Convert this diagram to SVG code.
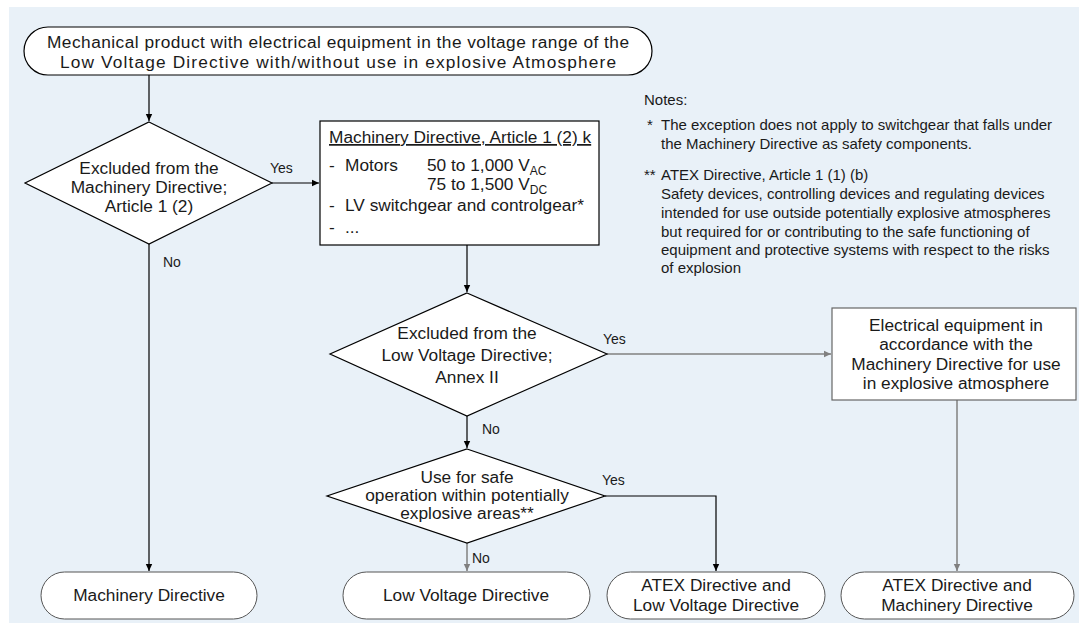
<svg xmlns="http://www.w3.org/2000/svg" width="1079" height="626" viewBox="0 0 1079 626">
<style>
text{font-family:"Liberation Sans",Arial,sans-serif;fill:#1a1a1a}
.t{font-size:17.3px;text-anchor:middle}
.b{font-size:17.3px}
.n{font-size:15px}
.l{font-size:14px}
.shape{fill:#fff;stroke:#000;stroke-width:1.2}
.term{fill:#fff;stroke:#555;stroke-width:1}
.gbox{fill:#fff;stroke:#666;stroke-width:1.2}
.c{fill:none;stroke:#000;stroke-width:1.2}
.cg{fill:none;stroke:#808080;stroke-width:1.5}
.sub{font-size:12px}
</style>
<defs>
<marker id="ab" markerWidth="8" markerHeight="8" refX="7" refY="4" orient="auto" markerUnits="userSpaceOnUse"><path d="M0,0.8 L7,4 L0,7.2 Z" fill="#000"/></marker>
<marker id="ag" markerWidth="8" markerHeight="8" refX="7" refY="4" orient="auto" markerUnits="userSpaceOnUse"><path d="M0,0.8 L7,4 L0,7.2 Z" fill="#808080"/></marker>
</defs>
<rect x="9" y="7" width="1070" height="616" fill="#e9f1f8"/>

<g id="connectors">
<path class="c" d="M149,75 V121" marker-end="url(#ab)"/>
<path class="c" d="M272,183 H319" marker-end="url(#ab)"/>
<path class="c" d="M149,244 V571" marker-end="url(#ab)"/>
<path class="c" d="M467,245 V292" marker-end="url(#ab)"/>
<path class="cg" d="M607,354 H831" marker-end="url(#ag)"/>
<path class="c" d="M467,416 V448" marker-end="url(#ab)"/>
<path class="c" d="M605,496 H716 V571" marker-end="url(#ab)"/>
<path class="cg" d="M467,543 V571" marker-end="url(#ag)"/>
<path class="cg" d="M957,400 V571" marker-end="url(#ag)"/>
<text class="l" x="270" y="173">Yes</text>
<text class="l" x="163" y="267">No</text>
<text class="l" x="603" y="344">Yes</text>
<text class="l" x="482" y="434">No</text>
<text class="l" x="602" y="485">Yes</text>
<text class="l" x="472" y="563">No</text>
</g>

<g id="start">
<rect class="shape" x="24" y="27" width="628" height="48" rx="24"/>
<text class="t" x="338" y="48" textLength="582" lengthAdjust="spacing">Mechanical product with electrical equipment in the voltage range of the</text>
<text class="t" x="338" y="68" textLength="556" lengthAdjust="spacing">Low Voltage Directive with/without use in explosive Atmosphere</text>
</g>

<g id="d1">
<polygon class="shape" points="149,122 272,183 149,244 25,183"/>
<text class="t" x="149" y="174">Excluded from the</text>
<text class="t" x="149" y="193">Machinery Directive;</text>
<text class="t" x="149" y="212">Article 1 (2)</text>
</g>

<g id="mdbox">
<rect class="shape" x="320" y="121" width="279" height="124"/>
<text class="b" x="329" y="143" text-decoration="underline">Machinery Directive, Article 1 (2) k</text>
<text class="b" x="329" y="171">-</text>
<text class="b" x="345" y="171">Motors</text>
<text class="b" x="427" y="171">50 to 1,000 V<tspan class="sub" dy="4">AC</tspan></text>
<text class="b" x="427" y="190">75 to 1,500 V<tspan class="sub" dy="4">DC</tspan></text>
<text class="b" x="329" y="211">-</text>
<text class="b" x="345" y="211">LV switchgear and controlgear*</text>
<text class="b" x="329" y="233">-</text>
<text class="b" x="345" y="233">...</text>
</g>

<g id="notes">
<text class="n" x="644" y="105">Notes:</text>
<text class="n" x="647" y="130">*</text>
<text class="n" x="661" y="130">The exception does not apply to switchgear that falls under</text>
<text class="n" x="661" y="149">the Machinery Directive as safety components.</text>
<text class="n" x="644" y="180">**</text>
<text class="n" x="661" y="180">ATEX Directive, Article 1 (1) (b)</text>
<text class="n" x="661" y="199">Safety devices, controlling devices and regulating devices</text>
<text class="n" x="661" y="218">intended for use outside potentially explosive atmospheres</text>
<text class="n" x="661" y="237">but required for or contributing to the safe functioning of</text>
<text class="n" x="661" y="255">equipment and protective systems with respect to the risks</text>
<text class="n" x="661" y="273">of explosion</text>
</g>

<g id="d2">
<polygon class="shape" points="467,293 607,354 467,416 330,354"/>
<text class="t" x="467" y="339">Excluded from the</text>
<text class="t" x="467" y="361">Low Voltage Directive;</text>
<text class="t" x="467" y="383">Annex II</text>
</g>

<g id="eqbox">
<rect class="gbox" x="832" y="308" width="244" height="92"/>
<text class="t" x="956" y="331">Electrical equipment in</text>
<text class="t" x="956" y="350">accordance with the</text>
<text class="t" x="956" y="370">Machinery Directive for use</text>
<text class="t" x="956" y="389">in explosive atmosphere</text>
</g>

<g id="d3">
<polygon class="shape" points="467,449 605,496 467,543 327,496"/>
<text class="t" x="467" y="483">Use for safe</text>
<text class="t" x="467" y="501">operation within potentially</text>
<text class="t" x="467" y="519">explosive areas**</text>
</g>

<g id="t-md">
<rect class="term" x="41" y="572" width="216" height="47" rx="23.5"/>
<text class="t" x="149" y="601">Machinery Directive</text>
</g>
<g id="t-lvd">
<rect class="term" x="343" y="572" width="247" height="47" rx="23.5"/>
<text class="t" x="466" y="601">Low Voltage Directive</text>
</g>
<g id="t-atex-lvd">
<rect class="term" x="607" y="572" width="218" height="47" rx="23.5"/>
<text class="t" x="716" y="591">ATEX Directive and</text>
<text class="t" x="716" y="611">Low Voltage Directive</text>
</g>
<g id="t-atex-md">
<rect class="term" x="841" y="572" width="233" height="47" rx="23.5"/>
<text class="t" x="957" y="591">ATEX Directive and</text>
<text class="t" x="957" y="611">Machinery Directive</text>
</g>
</svg>
